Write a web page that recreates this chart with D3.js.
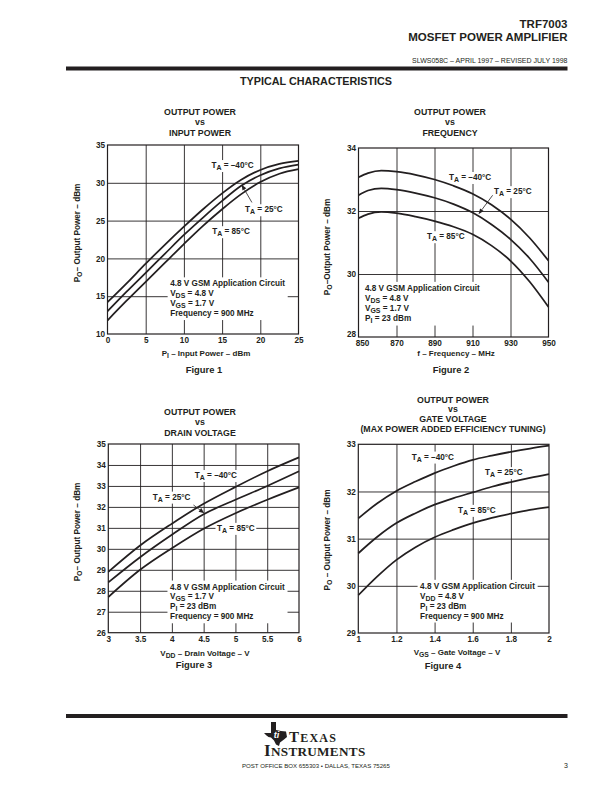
<!DOCTYPE html>
<html><head><meta charset="utf-8">
<script src="https://cdn.jsdelivr.net/npm/d3@7/dist/d3.min.js"></script>
<style>body{margin:0;background:#fff} svg{display:block}</style>
</head><body>
<script>
// ---------------- DATA ----------------
// Figure 1: output power vs input power
const fig1Input   = [0, 2.5, 5, 7.5, 10, 12.5, 15, 17.5, 20, 22.5, 25];
const fig1Minus40 = [14.2, 16.7, 19.3, 21.8, 24.2, 26.5, 28.6, 30.4, 31.7, 32.5, 32.9];
const fig1Plus25  = [13.0, 15.6, 18.1, 20.6, 23.1, 25.4, 27.6, 29.6, 31.0, 31.9, 32.4];
const fig1Plus85  = [11.8, 14.4, 16.9, 19.4, 21.9, 24.3, 26.5, 28.5, 30.1, 31.2, 31.8];
const fig1XTicks = [0, 5, 10, 15, 20, 25];
const fig1YTicks = [10, 15, 20, 25, 30, 35];

// Figure 2: output power vs frequency
const fig2Freq    = [850, 855, 862, 870, 880, 890, 900, 910, 920, 930, 940, 950];
const fig2Minus40 = [33.07, 33.2, 33.28, 33.25, 33.15, 33.0, 32.8, 32.55, 32.2, 31.74, 31.15, 30.42];
const fig2Plus25  = [32.5, 32.65, 32.72, 32.68, 32.57, 32.42, 32.22, 31.95, 31.57, 31.1, 30.5, 29.74];
const fig2Plus85  = [31.77, 31.9, 31.97, 31.93, 31.82, 31.68, 31.5, 31.26, 30.9, 30.42, 29.76, 28.95];
const fig2XTicks = [850, 870, 890, 910, 930, 950];
const fig2YTicks = [28, 30, 32, 34];

// Figure 3: output power vs drain voltage
const fig3Vdd     = [3, 3.5, 4, 4.5, 5, 5.5, 6];
const fig3Minus40 = [28.9, 30.16, 31.2, 32.15, 32.95, 33.7, 34.36];
const fig3Plus25  = [28.4, 29.6, 30.67, 31.65, 32.34, 33.0, 33.7];
const fig3Plus85  = [27.7, 29.0, 30.03, 30.96, 31.7, 32.34, 32.93];
const fig3XTicks = [3, 3.5, 4, 4.5, 5, 5.5, 6];
const fig3YTicks = [26, 27, 28, 29, 30, 31, 32, 33, 34, 35];

// Figure 4: output power vs gate voltage
const fig4Vgs     = [1, 1.1, 1.2, 1.3, 1.4, 1.5, 1.6, 1.7, 1.8, 1.9, 2];
const fig4Minus40 = [31.43, 31.75, 32.01, 32.21, 32.39, 32.54, 32.67, 32.76, 32.84, 32.91, 32.97];
const fig4Plus25  = [30.69, 31.04, 31.33, 31.54, 31.72, 31.86, 31.98, 32.1, 32.2, 32.29, 32.37];
const fig4Plus85  = [29.8, 30.2, 30.55, 30.82, 31.03, 31.19, 31.33, 31.44, 31.53, 31.61, 31.67];
const fig4XTicks = [1, 1.2, 1.4, 1.6, 1.8, 2];
const fig4YTicks = [29, 30, 31, 32, 33];

const tempNames = ["–40°C", "25°C", "85°C"];

// ---------------- DRAWING ----------------
const W = 612, H = 792;
const FONT = "'Liberation Sans', Arial, Helvetica, sans-serif";
const INK = "#231f20";
const svg = d3.select("body").append("svg")
  .attr("width", W).attr("height", H)
  .attr("font-family", FONT).attr("fill", INK);

// rich text: parts = strings or {t, sub:true}
function rich(g, x, y, parts, o = {}) {
  const size = o.size || 8.2;
  const t = g.append("text").attr("x", x).attr("y", y)
    .attr("font-size", size)
    .attr("font-weight", o.weight || "bold")
    .attr("text-anchor", o.anchor || "start")
    .attr("fill", INK);
  if (o.transform) t.attr("transform", o.transform);
  let shifted = false;
  parts.forEach(p => {
    const s = typeof p === "string" ? { t: p } : p;
    const ts = t.append("tspan").text(s.t);
    if (s.sub) { ts.attr("font-size", size * 0.85); if (!shifted) { ts.attr("dy", 2); shifted = true; } }
    else if (shifted) { ts.attr("dy", -2); shifted = false; }
  });
  return t;
}

function whiteBehind(layer, node, pad) {
  const b = node.getBBox();
  layer.append("rect").attr("x", b.x - pad).attr("y", b.y - pad + 0.5)
    .attr("width", b.width + 2 * pad).attr("height", b.height + 2 * pad - 1)
    .attr("fill", "#fff");
}

function drawFigure(cfg) {
  const x = d3.scaleLinear().domain(cfg.xDomain).range([cfg.left, cfg.right]);
  const y = d3.scaleLinear().domain(cfg.yDomain).range([cfg.bottom, cfg.top]);
  const g = svg.append("g");
  const ph = cfg.bottom - cfg.top, pw = cfg.right - cfg.left;

  // grid
  const gx = g.append("g").attr("transform", `translate(0,${cfg.bottom})`)
    .call(d3.axisBottom(x).tickValues(cfg.xTicks.slice(1, -1)).tickSize(-ph).tickFormat(""));
  const gy = g.append("g").attr("transform", `translate(${cfg.left},0)`)
    .call(d3.axisLeft(y).tickValues(cfg.yTicks.slice(1, -1)).tickSize(-pw).tickFormat(""));
  [gx, gy].forEach(a => { a.select(".domain").remove(); a.selectAll("line").attr("stroke", INK).attr("stroke-width", 0.9); });

  const bgLayer = g.append("g");
  const curveLayer = g.append("g");
  const textLayer = g.append("g");

  // curves
  const line = d3.line().x((d, i) => x(cfg.xs[i])).y(d => y(d)).curve(d3.curveMonotoneX);
  cfg.series.forEach(s => {
    curveLayer.append("path").attr("d", line(s)).attr("fill", "none")
      .attr("stroke", INK).attr("stroke-width", 1.75);
  });

  // temperature labels
  cfg.labels.forEach(L => {
    const t = rich(textLayer, x(L.x), y(L.y) + 3, ["T", { t: "A", sub: true }, " = " + tempNames[L.k]]);
    whiteBehind(bgLayer, t.node(), 1.5);
  });
  // arrow
  if (cfg.arrow) {
    const a = cfg.arrow;
    const x1 = x(a.from[0]), y1 = y(a.from[1]), x2 = x(a.to[0]), y2 = y(a.to[1]);
    const ang = Math.atan2(y2 - y1, x2 - x1);
    const len = 5.5, wd = 2.2;
    const bx = x2 - len * Math.cos(ang), by = y2 - len * Math.sin(ang);
    textLayer.append("line").attr("x1", x1).attr("y1", y1).attr("x2", bx).attr("y2", by)
      .attr("stroke", INK).attr("stroke-width", 0.8);
    textLayer.append("path").attr("d",
      `M${x2},${y2}L${bx + wd * Math.sin(ang)},${by - wd * Math.cos(ang)}L${bx - wd * Math.sin(ang)},${by + wd * Math.cos(ang)}Z`)
      .attr("fill", INK);
  }
  // condition block
  const blk = textLayer.append("g");
  cfg.notes.forEach((parts, i) => {
    rich(blk, x(cfg.noteAt[0]), y(cfg.noteAt[1]) + 3 + i * 9.9, parts);
  });
  whiteBehind(bgLayer, blk.node(), 2.5);

  // frame
  g.append("rect").attr("x", cfg.left).attr("y", cfg.top).attr("width", pw).attr("height", ph)
    .attr("fill", "none").attr("stroke", INK).attr("stroke-width", 1.2);

  // tick labels
  const ax = g.append("g").attr("transform", `translate(0,${cfg.bottom})`)
    .call(d3.axisBottom(x).tickValues(cfg.xTicks).tickSize(0).tickPadding(3.5).tickFormat(d => String(d)));
  const ay = g.append("g").attr("transform", `translate(${cfg.left},0)`)
    .call(d3.axisLeft(y).tickValues(cfg.yTicks).tickSize(0).tickPadding(2.5).tickFormat(d => String(d)));
  [ax, ay].forEach(a => {
    a.select(".domain").remove();
    a.attr("font-family", FONT).attr("font-size", 8.2);
    a.selectAll("text").attr("fill", INK).attr("font-weight", "bold");
  });
  if (cfg.cornerNudge) {
    ax.selectAll("text").filter(d => d === cfg.xTicks[0]).attr("dx", cfg.cornerNudge[0]);
    ay.selectAll("text").filter(d => d === cfg.yTicks[0]).attr("dy", "0.32em").attr("y", cfg.cornerNudge[1]);
  }

  // titles
  cfg.title.forEach((s, i) => {
    g.append("text").attr("x", cfg.titleX).attr("y", cfg.titleY + i * cfg.titleStep)
      .attr("text-anchor", "middle").attr("font-size", 8.8).attr("font-weight", "bold").text(s);
  });
  rich(g, cfg.xTitle[0], cfg.xTitle[1], cfg.xTitleParts, { anchor: "middle", size: 8 });
  rich(g, 0, 0, cfg.yTitleParts, { anchor: "middle", size: 8.2,
    transform: `translate(${cfg.yTitle[0]},${cfg.yTitle[1]}) rotate(-90)` });
  g.append("text").attr("x", cfg.figLabel[0]).attr("y", cfg.figLabel[1])
    .attr("text-anchor", "middle").attr("font-size", 9.4).attr("font-weight", "bold").text(cfg.figName);
}

const gsm = ["4.8 V GSM Application Circuit"];
const yPO = (sep) => ["P", { t: "O", sub: true }, sep + "Output Power – dBm"];

drawFigure({
  left: 107.5, top: 145, right: 298.5, bottom: 334,
  xDomain: [0, 25], yDomain: [10, 35], xTicks: fig1XTicks, yTicks: fig1YTicks,
  xs: fig1Input, series: [fig1Minus40, fig1Plus25, fig1Plus85],
  labels: [{ k: 0, x: 13.6, y: 32.35 }, { k: 1, x: 18.0, y: 26.5 }, { k: 2, x: 13.7, y: 23.6 }],
  arrow: { from: [18.9, 27.4], to: [17.56, 29.75] },
  notes: [gsm, ["V", { t: "DS", sub: true }, " = 4.8 V"], ["V", { t: "GS", sub: true }, " = 1.7 V"], ["Frequency = 900 MHz"]],
  noteAt: [8.2, 16.7],
  title: ["OUTPUT POWER", "vs", "INPUT POWER"], titleX: 200, titleY: 114.5, titleStep: 10.5,
  xTitle: [206, 356], xTitleParts: ["P", { t: "I", sub: true }, " – Input Power – dBm"],
  yTitle: [79.5, 233], yTitleParts: yPO("– "),
  figLabel: [204, 373], figName: "Figure 1"
});

drawFigure({
  left: 358.5, top: 148, right: 548.5, bottom: 337,
  xDomain: [850, 950], yDomain: [28, 34], xTicks: fig2XTicks, yTicks: fig2YTicks,
  xs: fig2Freq, series: [fig2Minus40, fig2Plus25, fig2Plus85],
  labels: [{ k: 0, x: 897.6, y: 33.08 }, { k: 1, x: 921.3, y: 32.63 }, { k: 2, x: 886, y: 31.2 }],
  arrow: { from: [920.6, 32.5], to: [913.2, 31.9] },
  notes: [gsm, ["V", { t: "DS", sub: true }, " = 4.8 V"], ["V", { t: "GS", sub: true }, " = 1.7 V"], ["P", { t: "I", sub: true }, " = 23 dBm"]],
  noteAt: [853.4, 29.56],
  cornerNudge: [3.5, -3.5],
  title: ["OUTPUT POWER", "vs", "FREQUENCY"], titleX: 450, titleY: 114.5, titleStep: 10.5,
  xTitle: [456, 356], xTitleParts: ["f – Frequency – MHz"],
  yTitle: [329.5, 247], yTitleParts: yPO("–"),
  figLabel: [451, 373], figName: "Figure 2"
});

drawFigure({
  left: 108.3, top: 444, right: 299, bottom: 632.7,
  xDomain: [3, 6], yDomain: [26, 35], xTicks: fig3XTicks, yTicks: fig3YTicks,
  xs: fig3Vdd, series: [fig3Minus40, fig3Plus25, fig3Plus85],
  labels: [{ k: 0, x: 4.36, y: 33.52 }, { k: 1, x: 3.70, y: 32.49 }, { k: 2, x: 4.71, y: 31.0 }],
  arrow: { from: [4.34, 32.09], to: [4.51, 31.7] },
  notes: [gsm, ["V", { t: "GS", sub: true }, " = 1.7 V"], ["P", { t: "I", sub: true }, " = 23 dBm"], ["Frequency = 900 MHz"]],
  noteAt: [3.97, 28.2],
  title: ["OUTPUT POWER", "vs", "DRAIN VOLTAGE"], titleX: 200, titleY: 414.5, titleStep: 10.5,
  xTitle: [205, 655.5], xTitleParts: ["V", { t: "DD", sub: true }, " – Drain Voltage – V"],
  yTitle: [79.5, 532], yTitleParts: yPO("– "),
  figLabel: [194, 667.5], figName: "Figure 3"
});

drawFigure({
  left: 358.3, top: 444.3, right: 549, bottom: 633,
  xDomain: [1, 2], yDomain: [29, 33], xTicks: fig4XTicks, yTicks: fig4YTicks,
  xs: fig4Vgs, series: [fig4Minus40, fig4Plus25, fig4Plus85],
  labels: [{ k: 0, x: 1.28, y: 32.74 }, { k: 1, x: 1.664, y: 32.41 }, { k: 2, x: 1.523, y: 31.61 }],
  arrow: null,
  notes: [gsm, ["V", { t: "DD", sub: true }, " = 4.8 V"], ["P", { t: "I", sub: true }, " = 23 dBm"], ["Frequency = 900 MHz"]],
  noteAt: [1.324, 30.0],
  title: ["OUTPUT POWER", "vs", "GATE VOLTAGE", "(MAX POWER ADDED EFFICIENCY TUNING)"], titleX: 453, titleY: 402.5, titleStep: 9.9,
  xTitle: [457, 654.5], xTitleParts: ["V", { t: "GS", sub: true }, " – Gate Voltage – V"],
  yTitle: [329.5, 540], yTitleParts: yPO(" – "),
  figLabel: [443, 668.5], figName: "Figure 4"
});

// ---------------- PAGE HEADER ----------------
svg.append("text").attr("x", 567.5).attr("y", 28).attr("text-anchor", "end")
  .attr("font-size", 11.5).attr("font-weight", "bold").text("TRF7003");
svg.append("text").attr("x", 567.5).attr("y", 40.5).attr("text-anchor", "end")
  .attr("font-size", 11.5).attr("font-weight", "bold").text("MOSFET POWER AMPLIFIER");
svg.append("text").attr("x", 567.5).attr("y", 62.5).attr("text-anchor", "end")
  .attr("font-size", 7).text("SLWS058C – APRIL 1997 – REVISED JULY 1998");
svg.append("rect").attr("x", 66).attr("y", 66.5).attr("width", 501.5).attr("height", 4).attr("fill", INK);
svg.append("text").attr("x", 316).attr("y", 85).attr("text-anchor", "middle")
  .attr("font-size", 10.8).attr("font-weight", "bold").text("TYPICAL CHARACTERISTICS");

// ---------------- PAGE FOOTER ----------------
svg.append("rect").attr("x", 66).attr("y", 714).attr("width", 501.5).attr("height", 4).attr("fill", INK);
const logo = svg.append("g").attr("transform", "translate(264,722)");
logo.append("path").attr("d",
  "M7,0L12,0L12,8L17,9L22,9.5L23,15L20,17.5L16,20.5L15,24L12,22.5L10,18.5L7,15.5L4.5,15L2.5,13.5L0,11L7,11Z")
  .attr("fill", INK);
logo.append("text").attr("x", 12.5).attr("y", 15.5).attr("text-anchor", "middle")
  .attr("font-size", 9).attr("font-weight", "bold").attr("font-style", "italic").attr("fill", "#fff").text("ti");
const tx = svg.append("text").attr("x", 289).attr("y", 742).attr("font-family", "'Liberation Serif', serif")
  .attr("font-weight", "bold").attr("letter-spacing", 1.2);
tx.append("tspan").attr("font-size", 15).text("T");
tx.append("tspan").attr("font-size", 12).text("EXAS");
const ins = svg.append("text").attr("x", 264).attr("y", 755.5).attr("font-family", "'Liberation Serif', serif")
  .attr("font-weight", "bold").attr("letter-spacing", 0.3);
ins.append("tspan").attr("font-size", 17).text("I");
ins.append("tspan").attr("font-size", 13.2).text("NSTRUMENTS");
svg.append("text").attr("x", 242).attr("y", 767.5).attr("font-size", 6.1)
  .text("POST OFFICE BOX 655303 • DALLAS, TEXAS 75265");
svg.append("text").attr("x", 568).attr("y", 768).attr("text-anchor", "end")
  .attr("font-size", 7).text("3");
</script>
</body></html>
